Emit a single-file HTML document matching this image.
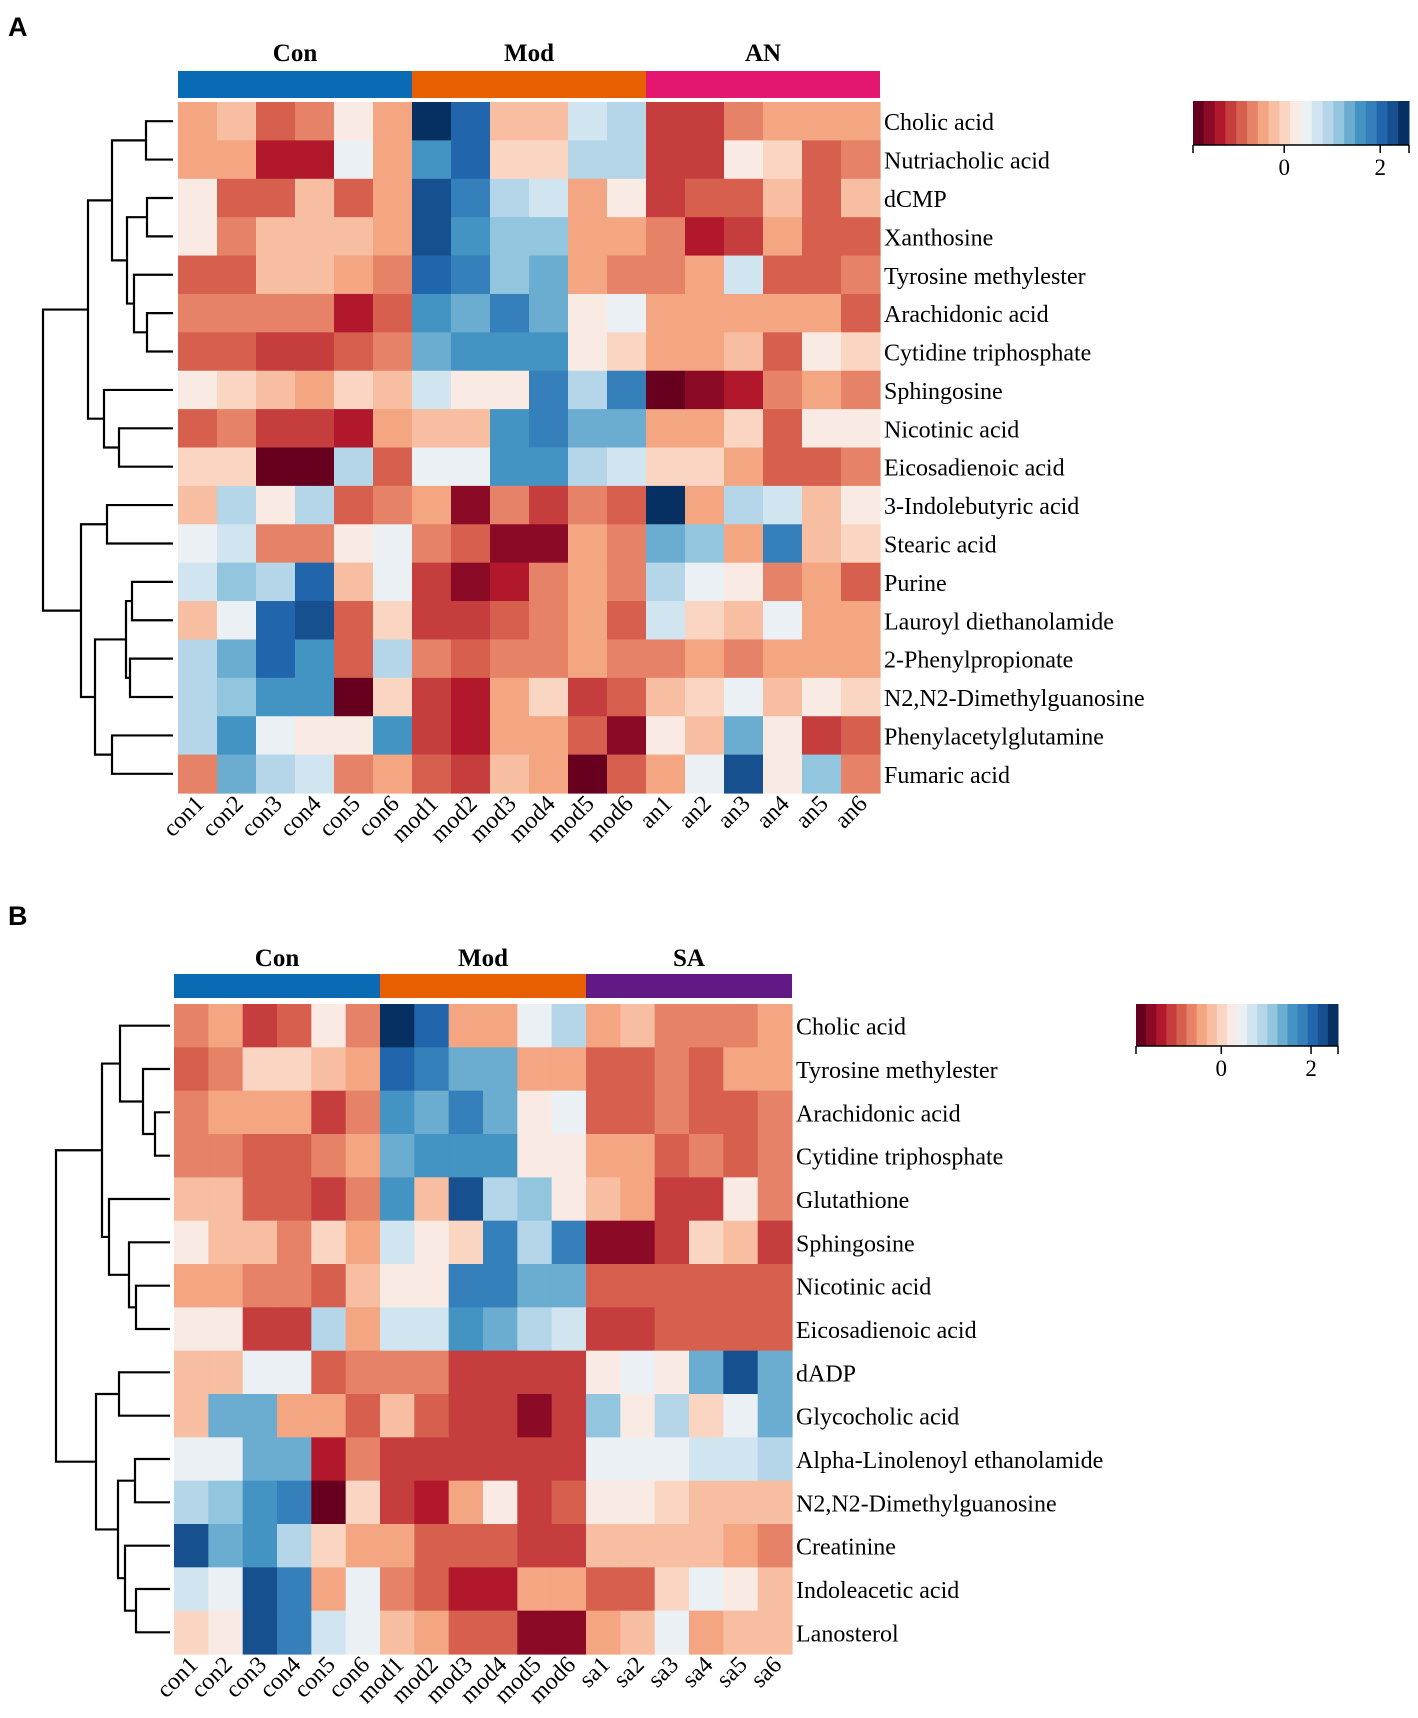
<!DOCTYPE html>
<html><head><meta charset="utf-8">
<style>
html,body{margin:0;padding:0;background:#fff;}
svg{display:block;font-family:"Liberation Serif","Times New Roman",serif;}
svg text{font-family:"Liberation Serif","Times New Roman",serif;fill:#000;}
svg text.pl{font-family:"Liberation Sans",Arial,sans-serif;font-weight:bold;font-size:27px;}
</style></head>
<body>
<svg id="fig" width="1418" height="1718" viewBox="0 0 1418 1718" xmlns="http://www.w3.org/2000/svg" font-family="Liberation Serif, serif"></svg>
<script>
const palette=["#67001f","#8b0a26","#b2182b","#c53e3d","#d6604d","#e58267","#f4a582","#f7bea1","#fad6c2","#f9ebe3","#eaf0f4","#d1e5f0","#b4d6e8","#92c5de","#6bacd1","#4393c3","#3580bb","#2166ac","#17508f","#053061"];
const vMin=-1.9, vMax=2.6;
const cbTicks=[0,2];

const colsA=["con1","con2","con3","con4","con5","con6","mod1","mod2","mod3","mod4","mod5","mod6","an1","an2","an3","an4","an5","an6"];
const rowsA=["Cholic acid","Nutriacholic acid","dCMP","Xanthosine","Tyrosine methylester","Arachidonic acid","Cytidine triphosphate","Sphingosine","Nicotinic acid","Eicosadienoic acid","3-Indolebutyric acid","Stearic acid","Purine","Lauroyl diethanolamide","2-Phenylpropionate","N2,N2-Dimethylguanosine","Phenylacetylglutamine","Fumaric acid"];
const valsA=[
[-0.45,-0.25,-0.8,-0.7,0.3,-0.5, 2.5,2.0,-0.15,-0.2,0.6,0.9, -1.1,-1.15,-0.75,-0.55,-0.4,-0.45],
[-0.55,-0.45,-1.25,-1.25,0.5,-0.55, 1.6,2.0,0.0,0.0,0.9,0.9, -1.0,-1.1,0.15,0.0,-0.8,-0.6],
[0.3,-0.85,-0.85,-0.2,-0.8,-0.35, 2.3,1.9,1.0,0.7,-0.55,0.25, -1.05,-0.85,-0.8,-0.15,-0.8,-0.2],
[0.3,-0.6,-0.3,-0.3,-0.25,-0.5, 2.2,1.6,1.15,1.15,-0.35,-0.4, -0.7,-1.3,-1.1,-0.55,-0.8,-0.8],
[-0.95,-0.8,-0.2,-0.2,-0.45,-0.7, 2.0,1.8,1.2,1.25,-0.55,-0.6, -0.65,-0.5,0.6,-0.85,-0.8,-0.7],
[-0.75,-0.65,-0.6,-0.6,-1.25,-0.95, 1.5,1.4,1.8,1.45,0.25,0.4, -0.45,-0.4,-0.5,-0.55,-0.55,-0.8],
[-0.9,-0.9,-1.15,-1.05,-0.9,-0.75, 1.4,1.6,1.5,1.6,0.2,0.05, -0.4,-0.55,-0.2,-0.95,0.2,-0.05],
[0.3,0.0,-0.1,-0.5,0.1,-0.2, 0.6,0.25,0.15,1.8,0.9,1.8, -1.75,-1.5,-1.35,-0.6,-0.55,-0.75],
[-0.8,-0.7,-1.15,-1.05,-1.3,-0.5, -0.1,-0.25,1.7,1.75,1.3,1.4, -0.35,-0.35,0.0,-0.95,0.3,0.3],
[0.0,0.0,-1.75,-1.75,0.85,-0.9, 0.35,0.45,1.7,1.5,0.85,0.7, 0.05,-0.05,-0.45,-0.95,-0.8,-0.75],
[-0.2,1.0,0.15,0.9,-0.85,-0.65, -0.5,-1.5,-0.7,-1.0,-0.65,-0.95, 2.5,-0.5,0.9,0.7,-0.15,0.3],
[0.55,0.75,-0.6,-0.65,0.3,0.4, -0.75,-0.95,-1.55,-1.5,-0.55,-0.6, 1.45,1.15,-0.5,1.85,-0.15,0.05],
[0.75,1.1,0.95,2.0,-0.2,0.45, -1.2,-1.55,-1.3,-0.7,-0.4,-0.65, 1.0,0.45,0.15,-0.65,-0.4,-0.9],
[-0.2,0.55,2.1,2.3,-0.9,0.0, -1.0,-1.0,-0.85,-0.65,-0.55,-0.8, 0.75,0.0,-0.2,0.45,-0.45,-0.35],
[1.0,1.35,2.0,1.6,-0.95,1.0, -0.75,-0.8,-0.75,-0.7,-0.5,-0.6, -0.6,-0.4,-0.7,-0.5,-0.4,-0.35],
[0.85,1.1,1.55,1.7,-1.75,0.0, -1.2,-1.3,-0.45,0.1,-1.1,-0.85, -0.15,0.1,0.5,-0.2,0.2,0.0],
[1.0,1.65,0.45,0.3,0.2,1.5, -1.1,-1.25,-0.5,-0.35,-0.95,-1.55, 0.15,-0.2,1.4,0.3,-1.0,-0.95],
[-0.6,1.25,0.8,0.75,-0.6,-0.35, -0.95,-1.05,-0.25,-0.55,-1.75,-0.95, -0.35,0.4,2.2,0.2,1.1,-0.6]
];
const dendA=[[[[0,1,146],[[2,3,147],[4,[5,6,147],134],127],112],[7,[8,9,119],104],88],[[10,11,107],[[[12,13,132],[14,15,130],126],[16,17,112],95],81],43];
const groupsA=["Con","Mod","AN"];
const groupColA=["#0a6bb4","#e85f02","#e3176f"];

const colsB=["con1","con2","con3","con4","con5","con6","mod1","mod2","mod3","mod4","mod5","mod6","sa1","sa2","sa3","sa4","sa5","sa6"];
const rowsB=["Cholic acid","Tyrosine methylester","Arachidonic acid","Cytidine triphosphate","Glutathione","Sphingosine","Nicotinic acid","Eicosadienoic acid","dADP","Glycocholic acid","Alpha-Linolenoyl ethanolamide","N2,N2-Dimethylguanosine","Creatinine","Indoleacetic acid","Lanosterol"];
const valsB=[
[-0.6,-0.4,-1.0,-0.95,0.15,-0.65, 2.5,2.0,-0.35,-0.4,0.55,0.9, -0.5,-0.15,-0.65,-0.7,-0.7,-0.55],
[-0.85,-0.7,-0.05,-0.05,-0.3,-0.55, 2.0,1.8,1.25,1.25,-0.45,-0.5, -0.95,-0.85,-0.75,-0.9,-0.55,-0.55],
[-0.6,-0.55,-0.5,-0.5,-1.05,-0.75, 1.5,1.4,1.8,1.45,0.3,0.45, -0.8,-0.8,-0.75,-0.8,-0.8,-0.75],
[-0.7,-0.7,-0.95,-0.9,-0.7,-0.5, 1.45,1.65,1.6,1.65,0.3,0.2, -0.55,-0.4,-0.85,-0.75,-0.8,-0.7],
[-0.3,-0.3,-0.85,-0.9,-1.0,-0.6, 1.5,-0.15,2.3,0.9,1.1,0.2, -0.15,-0.45,-1.0,-1.15,0.15,-0.75],
[0.25,-0.15,-0.2,-0.65,0.0,-0.35, 0.6,0.15,0.05,1.8,0.8,1.9, -1.5,-1.55,-1.15,-0.05,-0.25,-1.05],
[-0.5,-0.4,-0.7,-0.65,-0.8,-0.2, 0.3,0.2,1.75,1.8,1.35,1.35, -0.9,-0.9,-0.85,-0.85,-0.85,-0.9],
[0.25,0.25,-1.15,-1.15,0.9,-0.45, 0.6,0.7,1.55,1.4,0.9,0.75, -1.15,-1.2,-0.9,-0.9,-0.9,-0.95],
[-0.1,-0.3,0.35,0.5,-0.85,-0.75, -0.7,-0.7,-1.05,-1.15,-1.2,-1.05, 0.2,0.5,0.25,1.3,2.25,1.25],
[-0.25,1.4,1.4,-0.5,-0.45,-0.85, -0.1,-0.85,-1.1,-1.2,-1.6,-1.2, 1.15,0.15,0.8,0.05,0.35,1.3],
[0.5,0.55,1.35,1.35,-1.3,-0.65, -1.1,-1.15,-1.1,-1.0,-1.2,-1.1, 0.4,0.5,0.45,0.7,0.6,0.85],
[0.9,1.15,1.55,1.75,-1.75,0.05, -1.2,-1.3,-0.45,0.15,-1.1,-0.8, 0.3,0.15,0.0,-0.1,-0.1,-0.25],
[2.2,1.45,1.55,1.0,0.1,-0.5, -0.35,-0.85,-0.95,-0.85,-1.1,-1.0, -0.2,-0.2,-0.15,-0.2,-0.55,-0.75],
[0.65,0.5,2.2,1.9,-0.35,0.35, -0.75,-0.9,-1.3,-1.3,-0.45,-0.45, -0.85,-0.85,-0.05,0.4,0.2,-0.1],
[0.1,0.15,2.2,1.75,0.6,0.55, -0.3,-0.55,-0.95,-0.95,-1.55,-1.55, -0.35,-0.3,0.35,-0.35,-0.25,-0.3]
];
const dendB=[[[0,[1,[2,3,155],143],120],[4,[5,[6,7,136],129],109],102],[[8,9,119],[[10,11,135],[12,[13,14,136],125],118],96],56];
const groupsB=["Con","Mod","SA"];
const groupColB=["#0a6bb4","#e85f02","#611a85"];

const NS="http://www.w3.org/2000/svg";
const svg=document.getElementById('fig');
const SERIF="Liberation Serif, Times New Roman, serif";
function mk(tag,attrs,parent){const e=document.createElementNS(NS,tag);for(const k in attrs)e.setAttribute(k,attrs[k]);(parent||svg).appendChild(e);return e;}
function colorOf(v){let i=Math.floor((v-vMin)/(vMax-vMin)*palette.length);i=Math.max(0,Math.min(palette.length-1,i));return palette[i];}

function panel(cfg){
  const g=mk('g',{});
  
  
  const nC=cfg.cols.length,nR=cfg.rows.length;
  const cw=(cfg.x1-cfg.x0)/nC, rh=(cfg.y1-cfg.y0)/nR;
  const xS=c=>cfg.x0+c*cw, yS=r=>cfg.y0+r*rh;
  const pl=mk('text',{x:cfg.lx,y:cfg.ly,class:'pl','font-family':'Liberation Sans, Arial, sans-serif','font-weight':'bold','font-size':27},g);pl.textContent=cfg.letter;
  
  
  cfg.groups.forEach((gname,i)=>{
    const r=mk('rect',{x:xS(i*6),y:cfg.gy0,width:6*cw,height:cfg.gy1-cfg.gy0,fill:cfg.gcol[i]},g);
    
    
    const t=mk('text',{x:xS(i*6)+3*cw,y:cfg.gty,'text-anchor':'middle','font-size':25,'font-weight':'bold','font-family':SERIF},g);
    t.textContent=gname;
    
    
  });
  cfg.vals.forEach((row,r)=>row.forEach((v,c)=>{
    const rc=mk('rect',{x:xS(c),y:yS(r),width:cw+0.6,height:rh+0.6,fill:colorOf(v)},g);
    
    
  }));
  cfg.rows.forEach((n,r)=>{
    const t=mk('text',{x:cfg.x1+4,y:yS(r)+rh/2+9,'font-size':24,'font-family':SERIF},g);t.textContent=n;
    
    
  });
  cfg.cols.forEach((n,c)=>{
    const cx=xS(c)+cw/2+8, cy=cfg.y1+12;
    const t=mk('text',{x:cx,y:cy,'font-size':24,'font-family':SERIF,'text-anchor':'end',transform:`rotate(-45 ${cx} ${cy})`},g);t.textContent=n;
    
    
  });
  const dg=mk('g',{stroke:'#000','stroke-width':2.2,fill:'none'},g);
  
  
  function draw(n){
    if(typeof n==='number')return {y:yS(n)+rh/2,x:cfg.leafX};
    const a=draw(n[0]),b=draw(n[1]),h=n[2];
    mk('path',{d:`M${a.x},${a.y}H${h}V${b.y}H${b.x}`},dg);
    return {y:(a.y+b.y)/2,x:h};
  }
  draw(cfg.dend);
  const cb=mk('g',{},g);
  
  
  const bw=(cfg.cb.x1-cfg.cb.x0)/palette.length;
  palette.forEach((col,i)=>mk('rect',{x:cfg.cb.x0+i*bw,y:cfg.cb.y0,width:bw+0.5,height:cfg.cb.y1-cfg.cb.y0,fill:col},cb));
  const cbx=v=>cfg.cb.x0+(v-vMin)/(vMax-vMin)*(cfg.cb.x1-cfg.cb.x0);
  mk('line',{x1:cfg.cb.x0,x2:cfg.cb.x1,y1:cfg.cb.y1,y2:cfg.cb.y1,stroke:'#000','stroke-width':1.5},cb);
  [cfg.cb.x0,cfg.cb.x1].forEach(x=>mk('line',{x1:x,x2:x,y1:cfg.cb.y1,y2:cfg.cb.y1+8,stroke:'#000','stroke-width':1.5},cb));
  cbTicks.forEach(v=>{
    mk('line',{x1:cbx(v),x2:cbx(v),y1:cfg.cb.y1,y2:cfg.cb.y1+8,stroke:'#000','stroke-width':1.5},cb);
    const t=mk('text',{x:cbx(v),y:cfg.cb.y1+30,'font-size':23,'text-anchor':'middle','font-family':SERIF},cb);t.textContent=v;
  });
}
panel({name:'heatmap-a',letter:'A',lx:8,ly:36,cols:colsA,rows:rowsA,vals:valsA,dend:dendA,groups:groupsA,gcol:groupColA,
  x0:178,x1:880,y0:102,y1:793,gy0:71,gy1:98,gty:61,leafX:173,cb:{x0:1193,x1:1409,y0:101,y1:145}});
panel({name:'heatmap-b',letter:'B',lx:8,ly:925,cols:colsB,rows:rowsB,vals:valsB,dend:dendB,groups:groupsB,gcol:groupColB,
  x0:174,x1:792,y0:1004,y1:1654,gy0:974,gy1:998,gty:966,leafX:170,cb:{x0:1136,x1:1338,y0:1004,y1:1046}});
</script>
</body></html>
